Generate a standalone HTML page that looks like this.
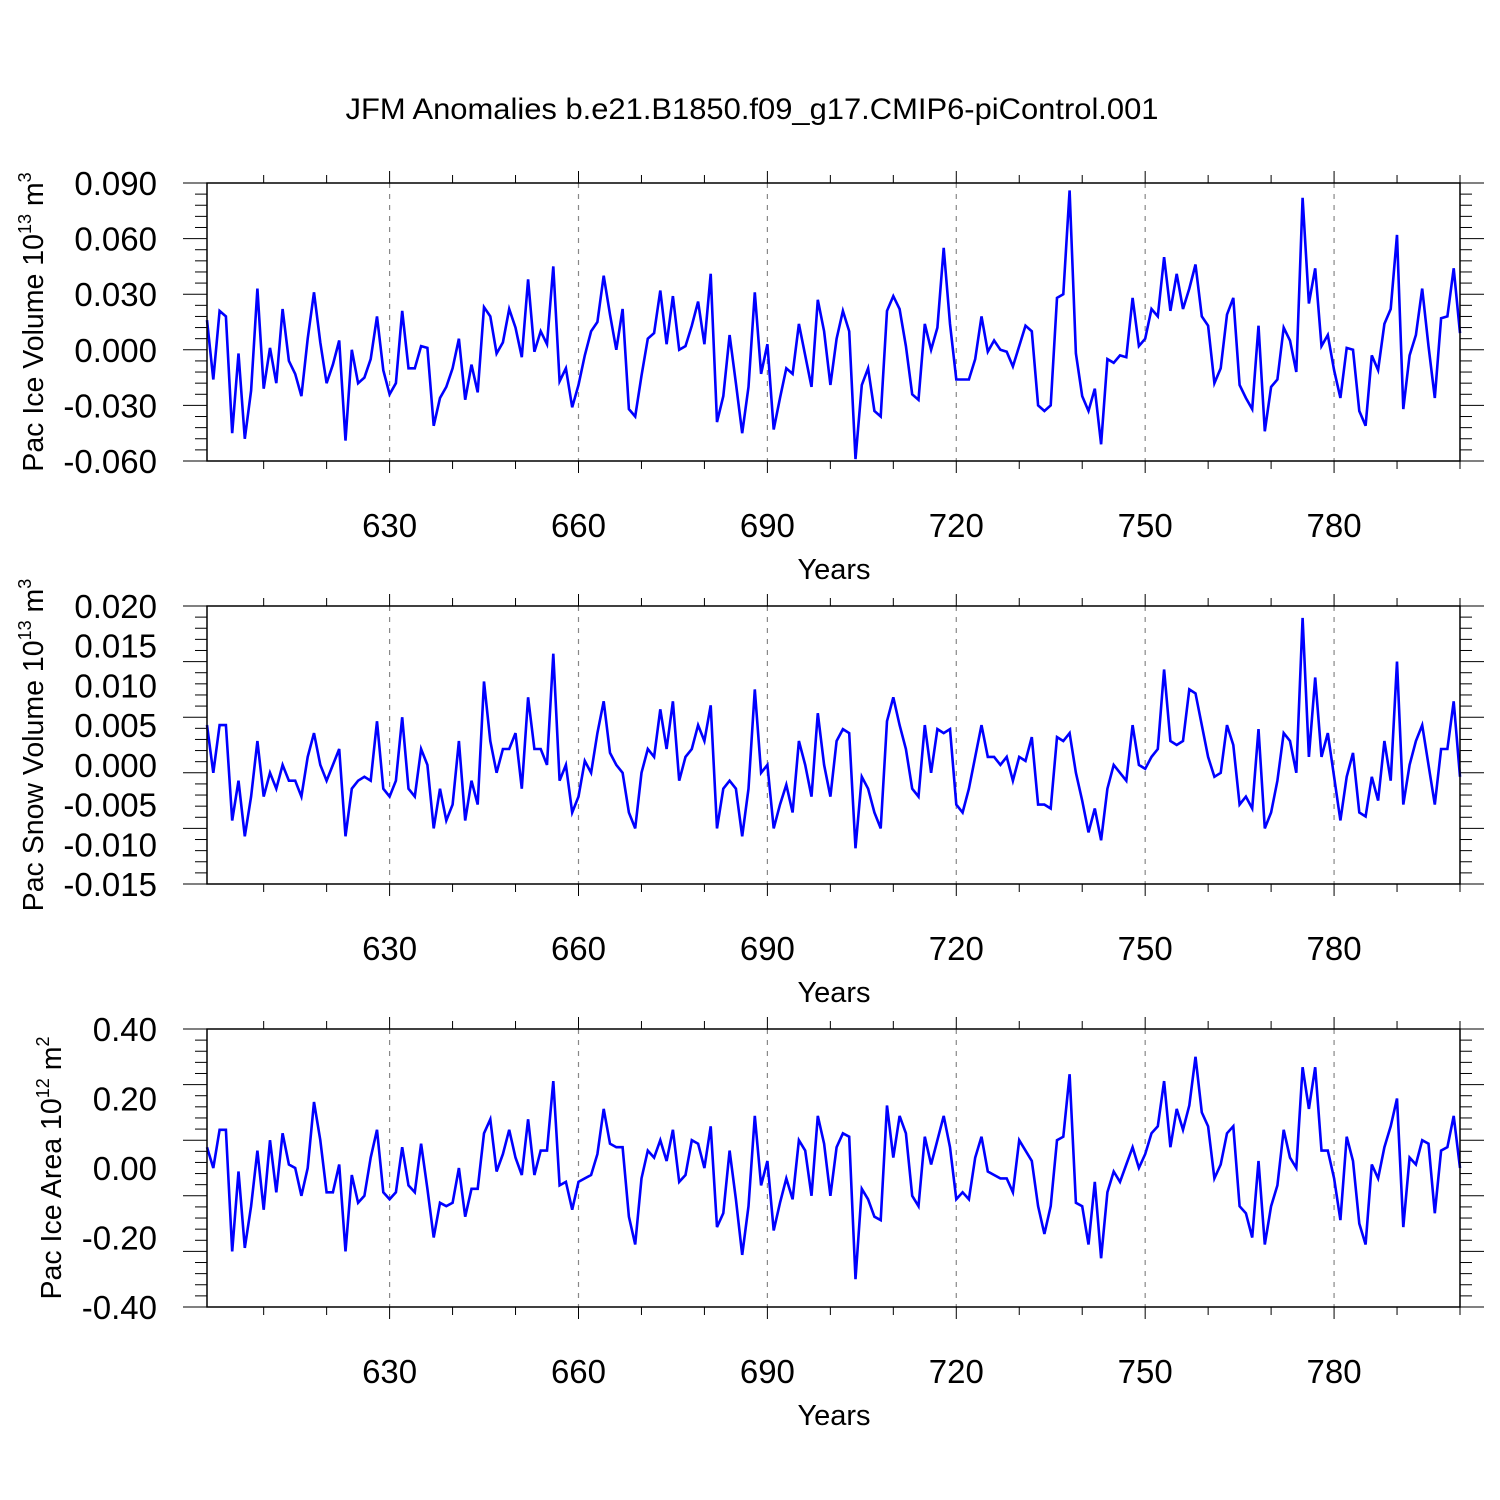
<!DOCTYPE html>
<html><head><meta charset="utf-8"><style>
html,body{margin:0;padding:0;background:#fff}
svg{display:block;font-family:"Liberation Sans",sans-serif}
</style></head><body>
<svg id="c" width="1500" height="1500" xmlns="http://www.w3.org/2000/svg">
<text x="752" y="119" font-size="30" text-anchor="middle" textLength="813" lengthAdjust="spacingAndGlyphs">JFM Anomalies b.e21.B1850.f09_g17.CMIP6-piControl.001</text>
</svg>
<script>
const iceVol = [0.016,-0.016,0.021,0.018,-0.045,-0.002,-0.048,-0.022,0.033,-0.021,0.001,-0.018,0.022,-0.006,-0.013,-0.025,0.006,0.031,0.004,-0.018,-0.008,0.005,-0.049,0.000,-0.018,-0.015,-0.005,0.018,-0.011,-0.024,-0.018,0.021,-0.010,-0.010,0.002,0.001,-0.041,-0.026,-0.020,-0.010,0.006,-0.027,-0.008,-0.023,0.023,0.018,-0.002,0.004,0.022,0.012,-0.004,0.038,-0.001,0.010,0.003,0.045,-0.017,-0.010,-0.031,-0.019,-0.003,0.010,0.015,0.040,0.019,0.000,0.022,-0.032,-0.036,-0.014,0.006,0.009,0.032,0.003,0.029,0.000,0.002,0.013,0.026,0.003,0.041,-0.039,-0.025,0.008,-0.018,-0.045,-0.020,0.031,-0.013,0.003,-0.043,-0.026,-0.010,-0.013,0.014,-0.003,-0.020,0.027,0.010,-0.019,0.006,0.021,0.010,-0.059,-0.019,-0.010,-0.033,-0.036,0.021,0.029,0.022,0.002,-0.024,-0.027,0.014,0.000,0.012,0.055,0.014,-0.016,-0.016,-0.016,-0.005,0.018,-0.001,0.005,0.000,-0.001,-0.009,0.002,0.013,0.010,-0.030,-0.033,-0.030,0.028,0.030,0.086,-0.002,-0.025,-0.033,-0.021,-0.051,-0.005,-0.007,-0.003,-0.004,0.028,0.002,0.006,0.022,0.018,0.050,0.021,0.041,0.022,0.033,0.046,0.018,0.013,-0.018,-0.010,0.019,0.028,-0.019,-0.026,-0.032,0.013,-0.044,-0.020,-0.016,0.012,0.005,-0.012,0.082,0.025,0.044,0.002,0.008,-0.011,-0.026,0.001,0.000,-0.033,-0.041,-0.003,-0.011,0.014,0.022,0.062,-0.032,-0.003,0.008,0.033,0.002,-0.026,0.017,0.018,0.044,0.009];
const snowVol = [0.005,-0.001,0.005,0.005,-0.007,-0.002,-0.009,-0.004,0.003,-0.004,-0.001,-0.003,0.000,-0.002,-0.002,-0.004,0.001,0.004,0.000,-0.002,0.000,0.002,-0.009,-0.003,-0.002,-0.0015,-0.002,0.0055,-0.003,-0.004,-0.002,0.006,-0.003,-0.004,0.002,0.000,-0.008,-0.003,-0.007,-0.005,0.003,-0.007,-0.002,-0.005,0.0105,0.003,-0.001,0.002,0.002,0.004,-0.003,0.0085,0.002,0.002,0.000,0.014,-0.002,0.000,-0.006,-0.004,0.0005,-0.001,0.004,0.008,0.0015,0.000,-0.001,-0.006,-0.008,-0.001,0.002,0.001,0.007,0.002,0.008,-0.002,0.001,0.002,0.005,0.003,0.0075,-0.008,-0.003,-0.002,-0.003,-0.009,-0.003,0.0095,-0.001,0.000,-0.008,-0.005,-0.0025,-0.006,0.003,0.000,-0.004,0.0065,0.000,-0.004,0.003,0.0045,0.004,-0.0105,-0.0015,-0.003,-0.006,-0.008,0.0055,0.0085,0.005,0.002,-0.003,-0.004,0.005,-0.001,0.0045,0.004,0.0045,-0.005,-0.006,-0.003,0.001,0.005,0.001,0.001,0.000,0.001,-0.002,0.001,0.0005,0.0035,-0.005,-0.005,-0.0055,0.0035,0.003,0.004,-0.001,-0.0045,-0.0085,-0.0055,-0.0095,-0.003,0.000,-0.001,-0.002,0.005,0.000,-0.0005,0.001,0.002,0.012,0.003,0.0025,0.003,0.0095,0.009,0.005,0.001,-0.0015,-0.001,0.005,0.0025,-0.005,-0.004,-0.0055,0.0045,-0.008,-0.006,-0.002,0.004,0.003,-0.001,0.0185,0.001,0.011,0.001,0.004,-0.0015,-0.007,-0.0015,0.0015,-0.006,-0.0065,-0.0015,-0.0045,0.003,-0.002,0.013,-0.005,0.000,0.003,0.005,0.000,-0.005,0.002,0.002,0.008,-0.0015];
const iceArea = [0.06,0.00,0.11,0.11,-0.24,-0.01,-0.23,-0.11,0.05,-0.12,0.08,-0.07,0.10,0.01,0.00,-0.08,0.00,0.19,0.08,-0.07,-0.07,0.01,-0.24,-0.02,-0.10,-0.08,0.03,0.11,-0.07,-0.09,-0.07,0.06,-0.05,-0.07,0.07,-0.06,-0.20,-0.10,-0.11,-0.10,0.00,-0.14,-0.06,-0.06,0.10,0.14,-0.01,0.04,0.11,0.03,-0.02,0.14,-0.02,0.05,0.05,0.25,-0.05,-0.04,-0.12,-0.04,-0.03,-0.02,0.04,0.17,0.07,0.06,0.06,-0.14,-0.22,-0.03,0.05,0.03,0.08,0.02,0.11,-0.04,-0.02,0.08,0.07,0.00,0.12,-0.17,-0.13,0.05,-0.09,-0.25,-0.11,0.15,-0.05,0.02,-0.18,-0.10,-0.03,-0.09,0.08,0.05,-0.08,0.15,0.07,-0.08,0.06,0.10,0.09,-0.32,-0.06,-0.09,-0.14,-0.15,0.18,0.03,0.15,0.10,-0.08,-0.11,0.09,0.01,0.08,0.15,0.06,-0.09,-0.07,-0.09,0.03,0.09,-0.01,-0.02,-0.03,-0.03,-0.07,0.08,0.05,0.02,-0.11,-0.19,-0.11,0.08,0.09,0.27,-0.10,-0.11,-0.22,-0.04,-0.26,-0.07,-0.01,-0.04,0.01,0.06,0.00,0.04,0.10,0.12,0.25,0.06,0.17,0.11,0.18,0.32,0.16,0.12,-0.03,0.01,0.10,0.12,-0.11,-0.13,-0.20,0.02,-0.22,-0.11,-0.05,0.11,0.03,0.00,0.29,0.17,0.29,0.05,0.05,-0.03,-0.15,0.09,0.02,-0.16,-0.22,0.01,-0.03,0.06,0.12,0.20,-0.17,0.03,0.01,0.08,0.07,-0.13,0.05,0.06,0.15,0.00];
const xTicks = [630,660,690,720,750,780];
const yTicks1 = [0.090,0.060,0.030,0.000,-0.030,-0.060];
const yTicks2 = [0.020,0.015,0.010,0.005,0.000,-0.005,-0.010,-0.015];
const yTicks3 = [0.40,0.20,0.00,-0.20,-0.40];
const firstYear = 601;

const NS='http://www.w3.org/2000/svg';
const svg=document.getElementById('c');
function mk(tag,attrs,parent){const e=document.createElementNS(NS,tag);for(const k in attrs)e.setAttribute(k,attrs[k]);(parent||svg).appendChild(e);return e;}
const L=207,R=1460,X0=601,X1=800;
const xs=y=>L+(y-X0)/(X1-X0)*(R-L);

function panel(key,top,bot,ymin,ymax,ticks,dec,minorStep,data,title,supTxt,unitTxt,titleX){
  const g=mk('g',{});
  
  
  const ys=v=>bot-(v-ymin)/(ymax-ymin)*(bot-top);
  xTicks.forEach(t=>{const l=mk('line',{x1:xs(t),x2:xs(t),y1:top,y2:bot,stroke:'#888','stroke-width':1.2,'stroke-dasharray':'5,6'},g);
    
    });
  for(let y=610;y<=800;y+=10){const maj=xTicks.includes(y);const len=maj?12:8;
    mk('line',{x1:xs(y),x2:xs(y),y1:top,y2:top-len,stroke:'#000','stroke-width':1},g);
    mk('line',{x1:xs(y),x2:xs(y),y1:bot,y2:bot+len,stroke:'#000','stroke-width':1},g);}
  const n=Math.round((ymax-ymin)/minorStep);
  for(let i=0;i<=n;i++){const v=ymin+i*minorStep;const maj=i%5===0;const len=maj?24:12;const y=ys(v);
    mk('line',{x1:L,x2:L-len,y1:y,y2:y,stroke:'#000','stroke-width':1},g);
    mk('line',{x1:R,x2:R+len,y1:y,y2:y,stroke:'#000','stroke-width':1},g);}
  ticks.forEach(v=>{const t=mk('text',{x:157,y:ys(v)+12,'font-size':33,'text-anchor':'end'},g);t.textContent=v.toFixed(dec);
    
    });
  xTicks.forEach(v=>{const t=mk('text',{x:xs(v),y:bot+76,'font-size':33,'text-anchor':'middle'},g);t.textContent=v;
    
    });
  const xt=mk('text',{x:834,y:bot+118,'font-size':29,'text-anchor':'middle'},g);xt.textContent='Years';
  
  
  const pts=data.map((v,i)=>xs(firstYear+i).toFixed(1)+','+ys(v).toFixed(1)).join(' ');
  const pl=mk('polyline',{points:pts,fill:'none',stroke:'#0000ff','stroke-width':2.6,'stroke-linejoin':'miter'},g);
  
  
  mk('rect',{x:L,y:top,width:R-L,height:bot-top,fill:'none',stroke:'#000','stroke-width':1.5},g);
  const cy=(top+bot)/2;
  const yt=mk('text',{x:0,y:0,'font-size':28.5,'text-anchor':'middle',transform:`translate(${titleX},${cy}) rotate(-90)`},g);
  
  
  const a=document.createElementNS(NS,'tspan');a.textContent=title+' 10';yt.appendChild(a);
  const b=document.createElementNS(NS,'tspan');b.setAttribute('font-size','18');b.setAttribute('dy','-12');b.textContent=supTxt;yt.appendChild(b);
  const c=document.createElementNS(NS,'tspan');c.setAttribute('dy','12');c.textContent=' m';yt.appendChild(c);
  const d=document.createElementNS(NS,'tspan');d.setAttribute('font-size','18');d.setAttribute('dy','-12');d.textContent=unitTxt;yt.appendChild(d);
}
panel('ice-volume',183,461,-0.060,0.090,yTicks1,3,0.006,iceVol,'Pac Ice Volume','13','3',43);
panel('snow-volume',606,884,-0.015,0.020,yTicks2,3,0.0014,snowVol,'Pac Snow Volume','13','3',43);
panel('ice-area',1029,1307,-0.40,0.40,yTicks3,2,0.032,iceArea,'Pac Ice Area','12','2',61);
</script>
</body></html>
